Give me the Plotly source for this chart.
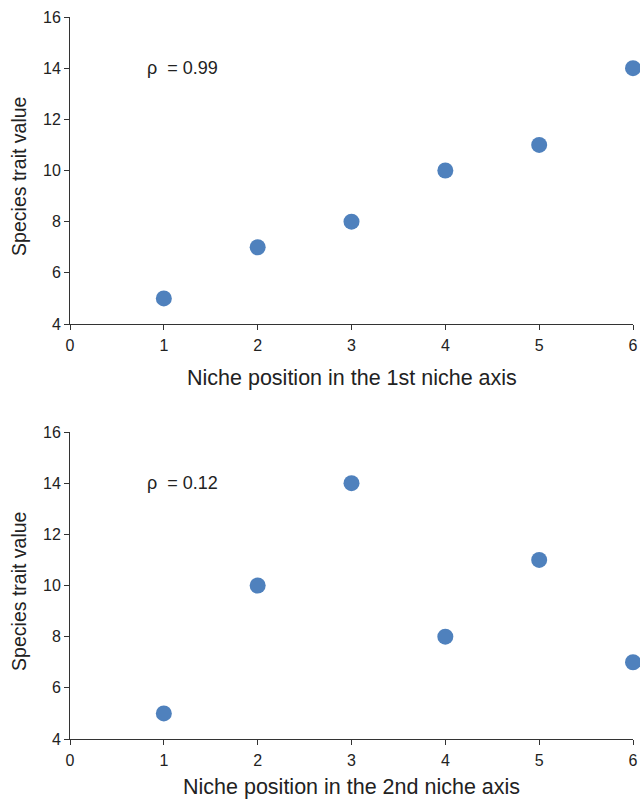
import plotly.graph_objects as go

niche_pos = [1, 2, 3, 4, 5, 6]
trait_axis1 = [5, 7, 8, 10, 11, 14]
trait_axis2 = [5, 10, 14, 8, 11, 7]
rho_labels = ["ρ  = 0.99", "ρ  = 0.12"]
x_titles = ["Niche position in the 1st niche axis", "Niche position in the 2nd niche axis"]
y_title = "Species trait value"
x_ticks = [0, 1, 2, 3, 4, 5, 6]
y_ticks = [4, 6, 8, 10, 12, 14, 16]

W, H = 640, 799
top, bottom, left, right = 17, 799 - 739, 70, 640 - 633
ph = H - top - bottom
dom1 = [(739 - 324) / ph, 1.0]
dom2 = [0.0, (739 - 432) / ph]

FONT = "Liberation Sans, Arial, sans-serif"
TXT = "#222222"
marker = dict(size=16, color="#4F81BD")

fig = go.Figure()
fig.add_trace(go.Scatter(x=niche_pos, y=trait_axis1, mode="markers", marker=marker,
                         xaxis="x", yaxis="y", cliponaxis=False, showlegend=False))
fig.add_trace(go.Scatter(x=niche_pos, y=trait_axis2, mode="markers", marker=marker,
                         xaxis="x2", yaxis="y2", cliponaxis=False, showlegend=False))


def ax(**kw):
    d = dict(showgrid=False, zeroline=False, showline=True, linecolor="#333333",
             linewidth=1, ticks="outside", ticklen=5, tickcolor="#333333",
             tickfont=dict(size=16, color=TXT, family=FONT),
             automargin=False, ticklabeloverflow="allow")
    d.update(kw)
    return d


annots = []
for i, (xr, yr) in enumerate([("x", "y"), ("x2", "y2")]):
    annots.append(dict(x=0.8, y=14, xref=xr, yref=yr, text=rho_labels[i], showarrow=False,
                       xanchor="left", yanchor="middle", font=dict(size=18, color=TXT, family=FONT)))
    annots.append(dict(x=3, y=4, xref=xr, yref=yr, text=x_titles[i], showarrow=False,
                       xanchor="center", yanchor="middle", yshift=-54 if i == 0 else -48,
                       font=dict(size=21.5, color=TXT, family=FONT)))
    annots.append(dict(x=0, y=9.75, xref=xr, yref=yr, text=y_title, showarrow=False,
                       textangle=-90, xanchor="center", yanchor="middle", xshift=-51,
                       font=dict(size=19.5, color=TXT, family=FONT)))

fig.update_layout(
    width=W, height=H,
    margin=dict(l=left, r=right, t=top, b=bottom),
    paper_bgcolor="white", plot_bgcolor="white",
    font=dict(family=FONT, color=TXT),
    xaxis=ax(domain=[0, 1], range=[0, 6], tickvals=x_ticks, anchor="y", ticklabelstandoff=2),
    yaxis=ax(domain=dom1, range=[4, 16], tickvals=y_ticks, anchor="x"),
    xaxis2=ax(domain=[0, 1], range=[0, 6], tickvals=x_ticks, anchor="y2", ticklabelstandoff=2),
    yaxis2=ax(domain=dom2, range=[4, 16], tickvals=y_ticks, anchor="x2"),
    annotations=annots,
)

fig.write_html("out.html", config={"displayModeBar": False},
               post_script="document.body.style.margin='0';document.body.style.overflow='hidden';")
